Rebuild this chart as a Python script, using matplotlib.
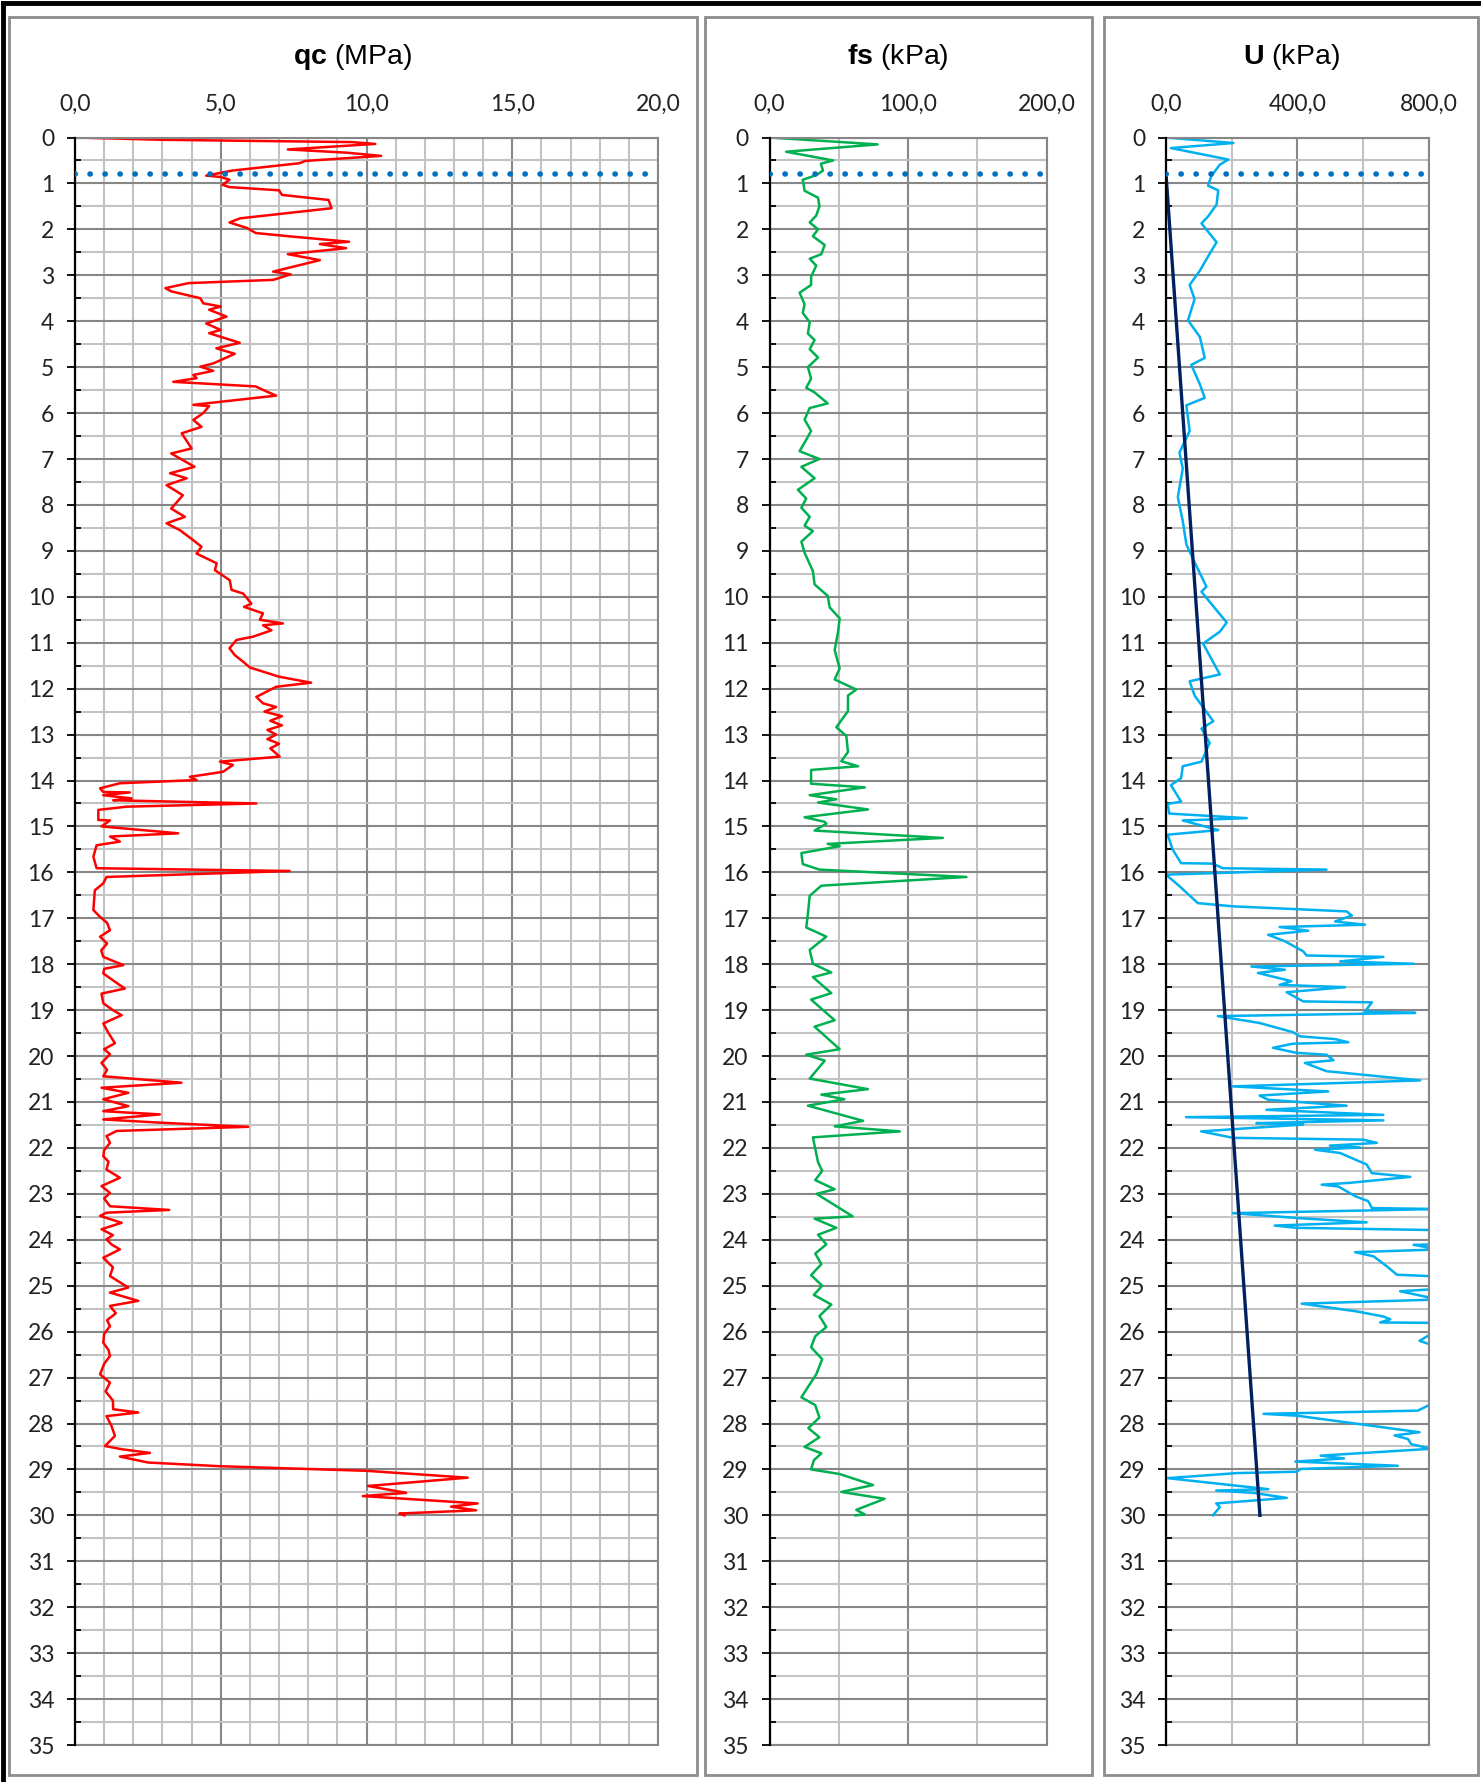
import matplotlib
matplotlib.use("Agg")
import matplotlib.pyplot as plt
from matplotlib.patches import Rectangle
from matplotlib.lines import Line2D
from matplotlib.ticker import MultipleLocator, FuncFormatter

# ---- data (depth in m) ----
qc_depth = [0.0, 0.05, 0.1, 0.14, 0.26, 0.33, 0.4, 0.51, 0.56, 0.72, 0.83, 0.86, 0.92, 1.03, 1.08,
            1.15, 1.25, 1.36, 1.54, 1.76, 1.85, 1.97, 2.08, 2.16, 2.27, 2.32, 2.41, 2.54, 2.67, 2.81,
            2.92, 2.98, 3.1, 3.17, 3.28, 3.35, 3.5, 3.61, 3.68, 3.75, 3.9, 4.05, 4.19, 4.26, 4.47,
            4.59, 4.71, 4.92, 4.99, 5.08, 5.17, 5.24, 5.32, 5.42, 5.53, 5.62, 5.82, 5.85, 6.0, 6.15,
            6.3, 6.44, 6.77, 6.88, 7.17, 7.31, 7.42, 7.57, 7.79, 8.08, 8.26, 8.4, 8.55, 8.77, 8.91,
            9.06, 9.27, 9.42, 9.64, 9.85, 9.93, 10.15, 10.22, 10.36, 10.5, 10.58, 10.62, 10.73, 10.87,
            10.94, 11.12, 11.27, 11.41, 11.54, 11.74, 11.87, 11.96, 12.07, 12.18, 12.32, 12.4, 12.5,
            12.6, 12.7, 12.8, 12.9, 13.0, 13.1, 13.2, 13.3, 13.48, 13.59, 13.66, 13.81, 13.92, 13.99,
            14.06, 14.17, 14.25, 14.26, 14.32, 14.39, 14.43, 14.5, 14.57, 14.64, 14.86, 14.87, 15.0,
            15.15, 15.22, 15.33, 15.41, 15.66, 15.91, 15.97, 16.1, 16.24, 16.39, 16.82, 16.97, 17.1,
            17.26, 17.4, 17.55, 17.7, 17.84, 18.02, 18.1, 18.2, 18.35, 18.53, 18.64, 18.85, 19.0,
            19.11, 19.29, 19.5, 19.72, 19.85, 19.96, 20.15, 20.3, 20.44, 20.58, 20.69, 20.8, 20.94,
            21.09, 21.2, 21.27, 21.38, 21.45, 21.54, 21.63, 21.74, 21.89, 22.05, 22.18, 22.3, 22.47,
            22.65, 22.83, 22.98, 23.1, 23.27, 23.35, 23.41, 23.48, 23.63, 23.77, 23.9, 23.99, 24.1,
            24.21, 24.39, 24.6, 24.79, 25.04, 25.15, 25.33, 25.44, 25.6, 25.75, 25.88, 26.05, 26.24,
            26.4, 26.53, 26.7, 26.93, 27.11, 27.3, 27.5, 27.69, 27.76, 27.84, 28.05, 28.27, 28.49,
            28.56, 28.64, 28.72, 28.85, 28.93, 29.03, 29.18, 29.36, 29.51, 29.58, 29.74, 29.81, 29.89,
            29.96, 30.0]
qc_val = [0.0, 3.0, 9.5, 10.3, 7.3, 9.3, 10.5, 7.9, 7.7, 5.4, 4.5, 5.0, 5.3, 5.06, 5.3,
          7.0, 7.1, 8.7, 8.8, 5.66, 5.3, 5.9, 6.2, 7.5, 9.4, 8.4, 9.3, 7.3, 8.4, 7.5,
          6.8, 7.4, 6.8, 3.9, 3.1, 3.3, 4.3, 4.4, 5.0, 4.6, 5.2, 4.5, 5.0, 4.6, 5.65,
          4.85, 5.48, 4.74, 4.3, 4.74, 4.06, 4.17, 3.37, 6.2, 6.57, 6.9, 4.06, 4.6, 4.4, 4.06,
          4.34, 3.66, 4.0, 3.3, 4.1, 3.26, 3.83, 3.14, 3.7, 3.3, 3.77, 3.14, 3.6, 4.06, 4.34,
          4.17, 4.86, 4.8, 5.31, 5.37, 5.77, 6.05, 5.8, 6.45, 6.34, 7.13, 6.45, 6.74, 6.1,
          5.54, 5.3, 5.48, 5.76, 6.0, 7.0, 8.1, 6.9, 6.56, 6.22, 6.45, 6.9, 6.5,
          7.1, 6.7, 7.1, 6.6, 6.9, 6.6, 7.0, 6.7, 7.02, 4.97, 5.42, 5.08, 3.94, 4.17,
          1.54, 0.86, 0.97, 1.88, 0.97, 1.94, 1.31, 6.22, 1.77, 0.8, 0.8, 1.2, 0.91,
          3.54, 1.2, 1.54, 0.74, 0.63, 0.74, 7.36, 1.08, 0.97, 0.68, 0.63, 0.86, 1.1,
          1.2, 0.86, 1.1, 0.9, 0.97, 1.66, 1.0, 0.97, 1.3, 1.71, 0.91, 0.97, 1.3,
          1.6, 0.97, 1.15, 1.37, 1.0, 1.2, 0.91, 1.1, 0.97, 3.65, 0.91, 1.83, 0.97,
          1.83, 0.97, 2.91, 0.97, 2.91, 5.94, 1.43, 1.08, 1.2, 1.0, 0.97, 1.15, 1.08,
          1.54, 0.91, 1.2, 1.0, 1.2, 3.23, 1.08, 0.86, 1.6, 0.91, 1.3, 1.08, 1.25,
          1.54, 0.97, 1.3, 1.2, 1.83, 1.2, 2.17, 1.2, 1.4, 1.1, 1.2, 1.0, 0.97,
          1.15, 1.2, 1.0, 0.86, 1.2, 1.05, 1.3, 1.31, 2.17, 1.08, 1.25, 1.37, 1.03,
          1.6, 2.57, 1.54, 2.51, 4.97, 9.99, 13.47, 10.05, 11.36, 9.87, 13.81, 12.9, 13.76,
          11.13, 11.3]

fs_depth = [0.0, 0.15, 0.31, 0.5, 0.57, 0.72, 0.82, 0.92, 1.16, 1.31, 1.5, 1.7, 1.85, 2.0, 2.15,
            2.34, 2.54, 2.64, 2.79, 3.03, 3.21, 3.38, 3.63, 3.82, 4.02, 4.27, 4.41, 4.61, 4.79, 5.0,
            5.25, 5.45, 5.55, 5.79, 5.89, 6.14, 6.39, 6.58, 6.83, 7.0, 7.17, 7.42, 7.67, 7.86, 8.06,
            8.26, 8.45, 8.57, 8.8, 9.04, 9.44, 9.73, 9.98, 10.23, 10.47, 10.77, 11.16, 11.56, 11.8,
            12.02, 12.15, 12.49, 12.84, 13.03, 13.38, 13.58, 13.69, 13.77, 14.07, 14.15, 14.32, 14.41,
            14.48, 14.63, 14.8, 14.9, 14.94, 15.09, 15.25, 15.38, 15.43, 15.58, 15.82, 15.94, 16.1,
            16.29, 16.51, 16.9, 17.2, 17.4, 17.69, 17.99, 18.18, 18.28, 18.63, 18.77, 19.22, 19.36,
            19.85, 19.97, 20.1, 20.49, 20.72, 20.84, 20.94, 21.08, 21.41, 21.53, 21.64, 21.77, 22.31,
            22.5, 22.7, 22.9, 23.0, 23.49, 23.54, 23.74, 23.89, 24.1, 24.3, 24.53, 24.77, 25.0, 25.2,
            25.41, 25.66, 25.9, 26.1, 26.34, 26.6, 26.93, 27.1, 27.43, 27.6, 27.87, 28.1, 28.3, 28.51,
            28.65, 28.8, 29.0, 29.1, 29.34, 29.49, 29.64, 29.88, 29.98, 30.0]
fs_val = [0, 78, 12, 46, 37, 38.6, 33.7, 24, 25.3, 35, 36, 33.7, 29, 35, 31.3,
          39.8, 37.4, 29, 33.7, 30, 30, 21.7, 25.3, 24, 29, 27.7, 32.5, 29, 35, 27.7,
          30, 26.5, 32.5, 42, 29, 25.3, 30, 26.5, 21.7, 36, 23, 32.5, 20.5, 26.5, 23,
          29, 25.3, 31.3, 23, 25.3, 31.3, 32.5, 42, 43.4, 50.6, 49.4, 47, 50.6, 47,
          62.6, 56.6, 56.6, 48.2, 55.4, 56.6, 51.8, 63.9, 30, 30, 68.7, 29, 48.2,
          35, 71, 25.3, 39.8, 41, 32.5, 125, 42, 50.6, 23, 24, 36, 142,
          37.4, 29, 27.7, 26.5, 41, 29, 31.3, 44.6, 31.3, 44.6, 30, 47, 32.5,
          50.6, 26.5, 39.8, 29, 71, 37.4, 54, 27.7, 67.5, 47, 94, 31.3, 35,
          38, 33, 47, 34, 60, 32.5, 48.2, 35, 41, 33, 37.4, 30, 38, 32,
          44.6, 36, 41, 33, 30, 38, 33.7, 30, 23, 33, 36, 28, 36, 25.3,
          37.4, 32, 30, 50.6, 74.7, 51.8, 83, 62.6, 68.7, 62]

u_depth = [0.0, 0.12, 0.23, 0.48, 0.59, 0.84, 1.05, 1.15, 1.46, 1.72, 1.87, 2.28, 2.59, 2.9, 3.21,
           3.52, 3.98, 4.34, 4.8, 4.95, 5.37, 5.67, 5.83, 6.39, 6.86, 7.21, 7.83, 8.35, 8.86, 9.17,
           9.78, 9.89, 10.25, 10.56, 10.76, 11.02, 11.69, 11.84, 12.15, 12.71, 12.87, 13.18, 13.59,
           13.69, 13.95, 14.1, 14.46, 14.51, 14.72, 14.82, 14.87, 15.08, 15.18, 15.5, 15.8, 15.81,
           15.91, 15.94, 16.05, 16.3, 16.67, 16.74, 16.85, 16.94, 17.07, 17.14, 17.19, 17.27, 17.36,
           17.5, 17.72, 17.81, 17.84, 17.94, 17.99, 18.05, 18.12, 18.19, 18.37, 18.45, 18.5, 18.61,
           18.81, 18.83, 19.03, 19.06, 19.13, 19.28, 19.48, 19.57, 19.63, 19.7, 19.73, 19.82, 19.93,
           19.97, 20.09, 20.15, 20.33, 20.35, 20.53, 20.66, 20.77, 20.86, 20.95, 21.08, 21.17, 21.28,
           21.33, 21.4, 21.46, 21.49, 21.64, 21.78, 21.82, 21.89, 21.95, 21.99, 22.04, 22.11, 22.36,
           22.55, 22.63, 22.76, 22.8, 22.84, 23.05, 23.16, 23.31, 23.33, 23.42, 23.53, 23.62, 23.69,
           23.74, 23.79, 24.1, 24.11, 24.21, 24.27, 24.36, 24.58, 24.76, 24.8, 25.07, 25.12, 25.3,
           25.39, 25.56, 25.67, 25.73, 25.8, 25.81, 26.09, 26.2, 26.34, 26.5, 27.0, 27.5, 27.61,
           27.72, 27.79, 27.83, 28.19, 28.26, 28.34, 28.45, 28.55, 28.7, 28.76, 28.83, 28.92, 28.99,
           29.05, 29.08, 29.19, 29.43, 29.46, 29.51, 29.62, 29.74, 29.82, 30.0]
u_val = [0, 205, 15, 190, 164, 138, 128, 159, 154, 128, 108, 154, 128, 103, 72,
         87, 67, 103, 118, 77, 103, 118, 62, 72, 41, 51, 36, 51, 62, 82,
         123, 108, 149, 185, 164, 113, 164, 72, 87, 144, 108, 133, 108,
         51, 46, 15, 46, 5, 10, 246, 51, 159, 5, 20, 46, 143,
         173, 489, 0, 41, 97, 204, 550, 566, 515, 606, 346, 433, 311,
         362, 418, 428, 662, 530, 754, 260, 362, 280, 382, 346, 545, 367,
         418, 627, 606, 759, 158, 285, 387, 408, 515, 555, 387, 326, 397,
         489, 510, 423, 489, 520, 774, 204, 494, 285, 311, 550, 306, 662,
         61, 662, 275, 418, 107, 204, 601, 642, 499, 591, 454, 530, 611,
         627, 744, 560, 474, 525, 576, 616, 627, 830, 204, 408, 611, 331,
         397, 830, 830, 754, 830, 576, 632, 673, 703, 830, 830, 713, 830,
         413, 581, 662, 683, 652, 830, 798, 772, 830, 850, 820, 840, 798,
         767, 297, 399, 772, 696, 737, 747, 808, 471, 542, 394, 706, 409,
         399, 215, 5, 312, 153, 266, 368, 153, 164, 143]

# hydrostatic pressure line and water table
hyd_depth = [0.8, 30.0]
hyd_u = [0, 286]
water_depth = 0.8

plt.rcParams['font.family'] = ['Lato', 'DejaVu Sans']
plt.rcParams['mathtext.fontset'] = 'custom'
plt.rcParams['mathtext.rm'] = 'Liberation Sans'
plt.rcParams['mathtext.bf'] = 'Liberation Sans:bold'

W, H = 1481, 1782
fig = plt.figure(figsize=(W / 100, H / 100), dpi=100)

MAJ_C = '#878787'
MIN_C = '#c3c3c3'


def comma(v, pos):
    return f"{v:.1f}".replace('.', ',')


def make_axes(x0, x1, xmax, xmaj, xmin):
    ax = fig.add_axes([x0 / W, 1 - 1745 / H, (x1 - x0) / W, (1745 - 137.5) / H])
    ax.set_xlim(0, xmax)
    ax.set_ylim(35, 0)
    ax.xaxis.set_major_locator(MultipleLocator(xmaj))
    ax.xaxis.set_minor_locator(MultipleLocator(xmin))
    ax.yaxis.set_major_locator(MultipleLocator(1))
    ax.yaxis.set_minor_locator(MultipleLocator(0.5))
    ax.xaxis.set_major_formatter(FuncFormatter(comma))
    ax.xaxis.tick_top()
    ax.tick_params(axis='x', which='both', length=0, pad=16, labelsize=16.5, colors='#222222')
    ax.tick_params(axis='y', which='major', length=6, width=1.3, direction='out', pad=9,
                   labelsize=16.5, colors='black')
    ax.tick_params(axis='y', which='minor', length=4, width=1.3, direction='in')
    ax.tick_params(axis='y', labelcolor='#222222')
    ax.grid(which='major', color=MAJ_C, lw=1.5)
    ax.grid(which='minor', color=MIN_C, lw=1.5)
    ax.set_axisbelow(True)
    for s in ['top', 'right', 'bottom']:
        ax.spines[s].set_color(MAJ_C)
        ax.spines[s].set_linewidth(1.5)
    ax.spines['left'].set_color('black')
    ax.spines['left'].set_linewidth(1.6)
    ax.spines['left'].set_zorder(5)
    return ax


# panel frames
for px0, px1 in [(9, 697), (705, 1092), (1104, 1478)]:
    fig.add_artist(Rectangle((px0 / W, 1 - 1775 / H), (px1 - px0) / W, (1775 - 17) / H,
                             transform=fig.transFigure, fill=False, ec='#8c8c8c', lw=2))
# outer black border (top and left)
fig.add_artist(Line2D([3 / W, 3 / W], [0, 1 - 3 / H], transform=fig.transFigure, color='black', lw=3.5))
fig.add_artist(Line2D([3 / W, 1], [1 - 3 / H, 1 - 3 / H], transform=fig.transFigure, color='black', lw=3.5))

ax1 = make_axes(75, 658, 20, 5, 1)
ax2 = make_axes(769.5, 1046.8, 200, 100, 50)
ax3 = make_axes(1166, 1428.7, 800, 400, 200)

ax1.plot(qc_val, qc_depth, color='#ff0000', lw=1.8)
ax2.plot(fs_val, fs_depth, color='#00b050', lw=1.8)
ax3.plot(u_val, u_depth, color='#00b0f0', lw=1.8)
ax3.plot(hyd_u, hyd_depth, color='#002060', lw=2.4)

for ax, xmax in [(ax1, 20), (ax2, 200), (ax3, 800)]:
    ax.plot([0, xmax], [water_depth, water_depth], color='#0070c0', lw=4,
            linestyle=(0, (0.05, 2.65)), dash_capstyle='round', zorder=6)

# titles
for cx, label in [(353, r'$\mathbf{qc}$ (MPa)'), (898, r'$\mathbf{fs}$ (kPa)'), (1291, r'$\mathbf{U}$ (kPa)')]:
    fig.text(cx / W, 1 - 57 / H, label, ha='center', va='center', fontsize=20.5,
             family='Liberation Sans')

fig.savefig('out.png', dpi=100)
